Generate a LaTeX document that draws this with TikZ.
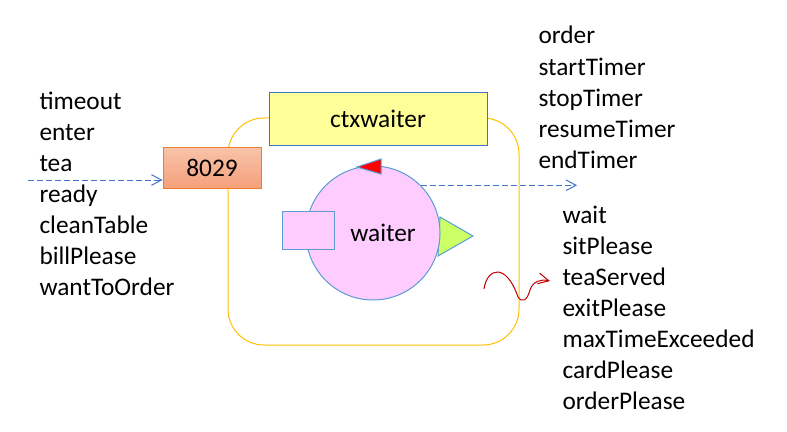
\documentclass[tikz,border=0pt]{standalone}
\usepackage{fontspec}
\setmainfont{Carlito}
\definecolor{cafe_gold}{RGB}{255, 192, 0}
\definecolor{cafe_blue}{RGB}{68, 114, 196}
\definecolor{cafe_sky}{RGB}{91, 155, 213}
\definecolor{cafe_cream}{RGB}{255, 255, 153}
\definecolor{cafe_pink}{RGB}{255, 204, 255}
\definecolor{cafe_lime}{RGB}{204, 255, 102}
\definecolor{cafe_peach}{RGB}{248, 196, 170}
\definecolor{cafe_salmon}{RGB}{244, 160, 122}
\definecolor{cafe_orange}{RGB}{237, 125, 49}
\definecolor{cafe_wine}{RGB}{192, 0, 0}
\usepackage{tikz}
\usetikzlibrary{arrows.meta, positioning, calc}
\tikzset{
  msglist/.style={anchor=base west, inner sep=0pt, align=left},
  ctxbox/.style={draw=cafe_blue, fill=cafe_cream, minimum width=163.5pt, minimum height=39pt},
  portbox/.style={draw=cafe_orange, top color=cafe_peach, bottom color=cafe_salmon,
    minimum width=73.5pt, minimum height=30.75pt},
  ball/.style={circle, draw=cafe_sky, fill=cafe_pink, minimum size=100.5pt, inner sep=0pt},
  msgflow/.style={->, >={Straight Barb[length=7.5pt, width=8pt]}, cafe_blue, dash pattern=on 4.5pt off 2.25pt},
}

\begin{document}
\begin{tikzpicture}[x=0.75pt, y=-0.75pt, line width=0.75pt, font=\fontsize{19}{23.25}\selectfont]
        \useasboundingbox (0,0) rectangle (787,431);
        % Cadre du composant
        \draw[cafe_gold, rounded corners=27pt] (228,118) rectangle (519,345);
        \node[ctxbox] (ctx) at (378,119) {ctxwaiter};
        \node[portbox] (port) at (212,167.5) {8029};
        % Acteur waiter
        \filldraw[fill=cafe_lime, draw=cafe_sky] (440,217) -- (473,236) -- (438,256) -- cycle;
        \node[ball, label={[xshift=7.5pt]center:waiter}] (waiter) at (373,233) {};
        \filldraw[fill=cafe_pink, draw=cafe_sky] (282,211) rectangle (334,249);
        \filldraw[fill=red, draw=cafe_sky] (357,167) -- (381,159) -- (381,174) -- cycle;
        % Messages (ancre sur la derniere ligne)
        \node[msglist] (inmsgs) at (39,295)
          {timeout\\enter\\tea\\ready\\cleanTable\\billPlease\\wantToOrder};
        \node[msglist] (timermsgs) at (538,168)
          {order\\startTimer\\stopTimer\\resumeTimer\\endTimer};
        \node[msglist] (outmsgs) at (562,409)
          {wait\\sitPlease\\teaServed\\exitPlease\\maxTimeExceeded\\cardPlease\\orderPlease};
        % Fleches (tirets)
        \coordinate (inflow) at (28,180);
        \coordinate (outflow) at (577,186);
        \draw[msgflow] (inflow) -- (inflow -| port.west);
        \draw[msgflow] (waiter.45) -- (waiter.45 -| outflow);
        % Trait a main levee
        \draw[cafe_wine, ->, >={Straight Barb[length=8pt, width=8pt]}]
          (484,289) .. controls (487,268) and (506,262) .. (518,297)
          .. controls (522,303) and (527,301) .. (530,290)
          .. controls (533,281) and (541,279) .. (550,281);
\end{tikzpicture}
\end{document}
